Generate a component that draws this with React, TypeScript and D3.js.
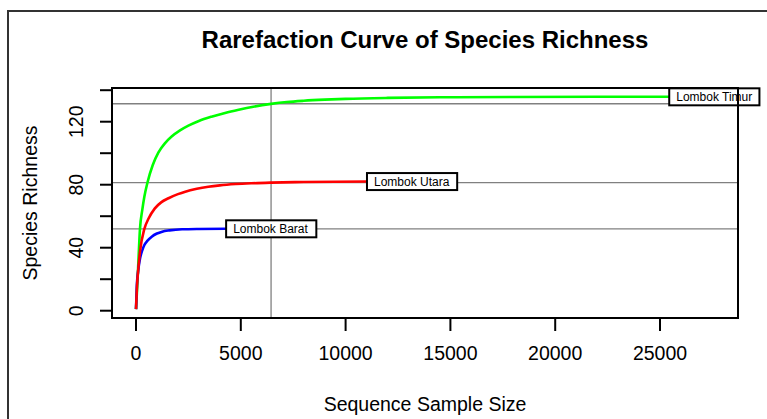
import React from "react";
import * as d3 from "d3";

// Rarefaction curves: [sample size, species richness]
const barat: [number, number][] = [
  [1, 1], [40, 16], [100, 25], [190, 33], [290, 38], [400, 41.7], [550, 44.5],
  [750, 47], [1000, 49], [1250, 50.2], [1600, 51], [2200, 51.7], [3000, 51.9], [4300, 52],
];
const utara: [number, number][] = [
  [1, 1], [48, 16], [100, 25], [190, 37.5], [400, 52], [600, 58.5], [900, 65],
  [1200, 68.8], [1550, 71.4], [2000, 74], [2350, 75.6], [2900, 77.4], [3450, 78.7],
  [4000, 79.6], [4750, 80.4], [5500, 80.9], [6444, 81.3], [8000, 81.7], [9500, 81.9], [11020, 82],
];
const timur: [number, number][] = [
  [1, 1], [62, 16], [100, 27], [190, 52], [300, 64], [400, 72.5], [557, 81.9],
  [800, 92.5], [1065, 100.3], [1400, 106.6], [1700, 110.6], [2100, 114.5], [2500, 117.5],
  [3000, 120.5], [3600, 123.2], [4250, 125.6], [4900, 127.6], [5600, 129.5],
  [6444, 131.3], [7200, 132.5], [8000, 133.3], [9000, 134], [10000, 134.5],
  [12000, 135.1], [14500, 135.5], [18000, 135.7], [22000, 135.8], [25440, 135.8],
];

const seriesNames = ["Lombok Barat", "Lombok Utara", "Lombok Timur"];
const seriesData = [barat, utara, timur];
const seriesColors = ["#0000ff", "#ff0000", "#00ff00"];
// drawing order of the curves (red ends up on top)
const drawOrder = [2, 0, 1];

// Rarefied sample depth and richness of each site at that depth
const rareDepth = 6444;
const rareRichness = [51.9, 81.3, 131.4];

const xTicks = [0, 5000, 10000, 15000, 20000, 25000];
const yTicks = [0, 20, 40, 60, 80, 100, 120, 140];
const yLabels = [0, 40, 80, 120];

const FONT = "'Liberation Sans', Arial, Helvetica, sans-serif";

export default function App() {
  const W = 767;
  const H = 419;
  const left = 112, right = 738, top = 88, bottom = 318;

  const x = d3.scaleLinear().domain([-1145, 28721]).range([left, right]);
  const y = d3.scaleLinear().domain([-4.63, 141.4]).range([bottom, top]);

  const line = d3
    .line<[number, number]>()
    .x((d) => x(d[0]))
    .y((d) => y(d[1]))
    .curve(d3.curveMonotoneX);

  return (
    <svg
      width={W}
      height={H}
      style={{ position: "absolute", left: 0, top: 0, display: "block", background: "#fff" }}
      fontFamily={FONT}
    >
      <defs>
        <clipPath id="plot-area">
          <rect x={left} y={top} width={right - left} height={bottom - top} />
        </clipPath>
      </defs>

      {/* figure frame */}
      <rect x={8} y={11} width={900} height={600} fill="none" stroke="#333" strokeWidth={2} />

      {/* title */}
      <text x={(left + right) / 2} y={48} textAnchor="middle" fontSize={24} fontWeight="bold">
        Rarefaction Curve of Species Richness
      </text>

      {/* reference lines at rarefied depth */}
      <g clipPath="url(#plot-area)" stroke="#808080" strokeWidth={1.3}>
        <line x1={x(rareDepth)} x2={x(rareDepth)} y1={top} y2={bottom} />
        {rareRichness.map((r, i) => (
          <line key={i} x1={left} x2={right} y1={y(r)} y2={y(r)} />
        ))}
      </g>

      {/* curves */}
      {drawOrder.map((i) => (
        <path key={i} d={line(seriesData[i]) ?? ""} fill="none" stroke={seriesColors[i]} strokeWidth={2.6} />
      ))}

      {/* end labels */}
      {seriesData.map((d, i) => {
        const last = d[d.length - 1];
        const lx = x(last[0]);
        const ly = y(last[1]);
        const tw = seriesNames[i].length * 6.35;
        return (
          <g key={i}>
            <rect x={lx} y={ly - 8.5} width={tw + 14} height={17} fill="#fff" stroke="#000" strokeWidth={2} />
            <text x={lx + 7} y={ly + 4.3} fontSize={12}>
              {seriesNames[i]}
            </text>
          </g>
        );
      })}

      {/* plot box */}
      <rect x={left} y={top} width={right - left} height={bottom - top} fill="none" stroke="#000" strokeWidth={2} />

      {/* x axis */}
      <g>
        {xTicks.map((t) => (
          <g key={t}>
            <line x1={x(t)} x2={x(t)} y1={bottom} y2={bottom + 13} stroke="#000" strokeWidth={2} />
            <text x={x(t)} y={360} textAnchor="middle" fontSize={19.5}>
              {t}
            </text>
          </g>
        ))}
      </g>

      {/* y axis */}
      <g>
        {yTicks.map((t) => (
          <line key={t} x1={left - 12} x2={left} y1={y(t)} y2={y(t)} stroke="#000" strokeWidth={2} />
        ))}
        {yLabels.map((t) => (
          <text
            key={t}
            transform={`translate(83,${y(t)}) rotate(-90)`}
            textAnchor="middle"
            fontSize={19.5}
          >
            {t}
          </text>
        ))}
      </g>

      {/* axis titles */}
      <text x={(left + right) / 2} y={411} textAnchor="middle" fontSize={19.5}>
        Sequence Sample Size
      </text>
      <text transform={`translate(37,${(top + bottom) / 2}) rotate(-90)`} textAnchor="middle" fontSize={19.5}>
        Species Richness
      </text>
    </svg>
  );
}
